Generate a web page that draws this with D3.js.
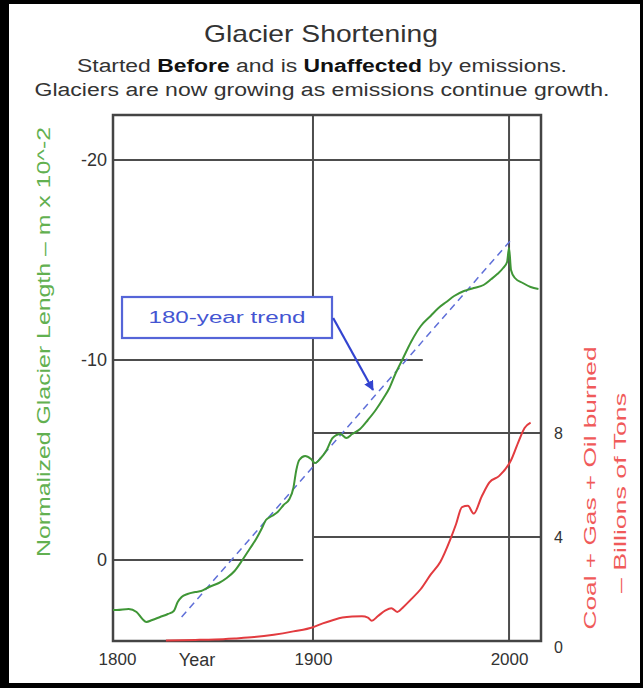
<!DOCTYPE html>
<html><head><meta charset="utf-8">
<script src="https://cdn.jsdelivr.net/npm/d3@7"></script>
<style>
html,body{margin:0;padding:0;background:#fff;}
svg{display:block;font-family:"Liberation Sans",Arial,Helvetica,sans-serif;}
</style></head><body>
<svg id="chart" width="643" height="688"></svg>
<script>
// ---------- data ----------
const glacierYears = [1798,1800,1806,1810,1813,1815,1818,1822,1826,1829,1831,1833,1836,1840,1843,1847,1852,1856,1860,1864,1868,1871,1874,1876,1879,1882,1885,1888,1890,1891.5,1893,1896,1899,1901,1904,1907,1910,1914,1917,1920,1924,1928,1932,1936,1939,1942,1946,1950,1955,1960,1964,1968,1972,1977,1982,1987,1991,1994,1997,1999,2000,2001,2003,2007,2011,2015];
const glacierValues = [2.5,2.5,2.45,2.6,2.95,3.1,3.0,2.85,2.7,2.55,2.1,1.85,1.7,1.6,1.55,1.35,1.15,0.9,0.55,0.0,-0.6,-1.05,-1.6,-2.0,-2.2,-2.4,-2.75,-3.05,-3.6,-4.5,-5.0,-5.2,-5.05,-4.85,-5.1,-5.5,-6.1,-6.3,-6.1,-6.3,-6.55,-7.0,-7.5,-8.1,-8.6,-9.3,-10.1,-10.9,-11.7,-12.2,-12.6,-12.9,-13.2,-13.45,-13.6,-13.75,-14.05,-14.3,-14.6,-14.9,-15.6,-14.5,-14.1,-13.85,-13.65,-13.55];
const fuelYears = [1825,1840,1850,1860,1870,1880,1890,1900,1905,1910,1915,1920,1925,1928,1930,1933,1937,1940,1943,1946,1950,1955,1960,1965,1970,1973,1976,1979,1982,1986,1990,1995,2001,2005,2008,2011];
const fuelValues = [0.02,0.04,0.06,0.1,0.15,0.24,0.37,0.53,0.68,0.8,0.9,0.94,0.95,0.9,0.78,0.95,1.18,1.26,1.12,1.3,1.6,2.0,2.55,3.05,3.9,4.5,5.15,5.2,4.9,5.55,6.1,6.35,6.95,7.7,8.2,8.4];
const trendYears = [1833, 2001];
const trendValues = [2.85, -16.0];
const xTicks = [1800, 1900, 2000];
const leftTicks = [-20, -10, 0];
const rightTicks = [0, 4, 8];
const vGridYears = [1900, 2000];
const leftGridValues = [-20, -10, 0];
const leftGridEnds = [2016.3, 1956, 1895];
const rightGridValues = [4, 8];
const rightGridStart = 1900;
const trendLabel = "180-year trend";

// ---------- layout ----------
const svg = d3.select("#chart");
const W = 643, H = 688;
const L = 113, R = 541, T = 115, B = 641;
const gridCol = "#4d4d4d";
const green = "#3f9636", red = "#e23b3f", blue = "#4455d2";
const fmt = d => String(d);

// outer frame
svg.append("rect").attr("x",0).attr("y",0).attr("width",W).attr("height",H).attr("fill","#000");
svg.append("rect").attr("x",9).attr("y",4).attr("width",W-12).attr("height",H-9).attr("fill","#fff");

const x = d3.scaleLinear().domain([1798, 2016.3]).range([L, R]);
const yL = d3.scaleLinear().domain([4.05, -22.25]).range([B, T]);
const yR = d3.scaleLinear().domain([0, 20.23]).range([B, T]);

// titles
svg.append("text").attr("x",321).attr("y",42).attr("text-anchor","middle")
  .attr("font-size",24).attr("fill","#333").attr("textLength",234).attr("lengthAdjust","spacingAndGlyphs")
  .text("Glacier Shortening");
const s1 = svg.append("text").attr("x",322).attr("y",72).attr("text-anchor","middle")
  .attr("font-size",18).attr("fill","#333").attr("textLength",490).attr("lengthAdjust","spacingAndGlyphs");
s1.append("tspan").text("Started ");
s1.append("tspan").attr("font-weight","bold").attr("fill","#111").text("Before");
s1.append("tspan").text(" and is ");
s1.append("tspan").attr("font-weight","bold").attr("fill","#111").text("Unaffected");
s1.append("tspan").text(" by emissions.");
svg.append("text").attr("x",322).attr("y",96).attr("text-anchor","middle")
  .attr("font-size",18).attr("fill","#333").attr("textLength",575).attr("lengthAdjust","spacingAndGlyphs")
  .text("Glaciers are now growing as emissions continue growth.");

// grid
const g = svg.append("g");
g.selectAll(".lg").data(leftGridValues).join("line")
  .attr("x1", x(1798)).attr("x2", (d,i)=>x(leftGridEnds[i]))
  .attr("y1", d=>yL(d)).attr("y2", d=>yL(d))
  .attr("stroke", gridCol).attr("stroke-width", 2);
g.selectAll(".rg").data(rightGridValues).join("line")
  .attr("x1", x(rightGridStart)).attr("x2", R)
  .attr("y1", d=>yR(d)).attr("y2", d=>yR(d))
  .attr("stroke", gridCol).attr("stroke-width", 2);
g.selectAll(".vg").data(vGridYears).join("line")
  .attr("x1", d=>x(d)).attr("x2", d=>x(d)).attr("y1", T).attr("y2", B)
  .attr("stroke", gridCol).attr("stroke-width", 2);

// plot frame
svg.append("rect").attr("x",L).attr("y",T).attr("width",R-L).attr("height",B-T)
  .attr("fill","none").attr("stroke","#444").attr("stroke-width",2.5);

// lines
const lineL = d3.line().x(d=>x(d[0])).y(d=>yL(d[1])).curve(d3.curveMonotoneX);
const lineR = d3.line().x(d=>x(d[0])).y(d=>yR(d[1])).curve(d3.curveMonotoneX);
svg.append("path").datum(fuelYears.map((d,i)=>[d,fuelValues[i]]))
  .attr("d", lineR).attr("fill","none").attr("stroke",red).attr("stroke-width",2);
svg.append("path").datum(trendYears.map((d,i)=>[d,trendValues[i]]))
  .attr("d", d3.line().x(d=>x(d[0])).y(d=>yL(d[1]))).attr("fill","none")
  .attr("stroke","#5f6fd8").attr("stroke-width",1.5).attr("stroke-dasharray","7,5");
svg.append("path").datum(glacierYears.map((d,i)=>[d,glacierValues[i]]))
  .attr("d", lineL).attr("fill","none").attr("stroke",green).attr("stroke-width",2);

// axes
const tickFont = "Liberation Sans, Arial, sans-serif";
const axL = svg.append("g").attr("transform",`translate(${L},0)`)
  .call(d3.axisLeft(yL).tickValues(leftTicks).tickSize(0).tickPadding(6).tickFormat(fmt));
axL.select(".domain").remove();
axL.selectAll("text").attr("font-size",18).attr("fill","#333").attr("font-family",tickFont);

const axR = svg.append("g").attr("transform",`translate(${R},0)`)
  .call(d3.axisRight(yR).tickValues(rightTicks).tickSize(0).tickPadding(13).tickFormat(fmt));
axR.select(".domain").remove();
axR.selectAll("text").attr("font-size",16).attr("fill","#333").attr("font-family",tickFont)
  .attr("dy", d => d===0 ? "0.7em" : "0.32em");

const axB = svg.append("g").attr("transform",`translate(0,${B})`)
  .call(d3.axisBottom(x).tickValues(xTicks).tickSize(0).tickPadding(12).tickFormat(fmt));
axB.select(".domain").remove();
axB.selectAll("text").attr("font-size",17).attr("fill","#333").attr("font-family",tickFont);

svg.append("text").attr("x",197).attr("y",B+12).attr("dy","0.71em").attr("text-anchor","middle")
  .attr("font-size",18).attr("fill","#333").text("Year");

// axis titles
svg.append("text").attr("transform","translate(44,342) rotate(-90)").attr("text-anchor","middle")
  .attr("dy","0.35em").attr("font-size",18).attr("fill","#62b050")
  .attr("textLength",430).attr("lengthAdjust","spacingAndGlyphs")
  .text("Normalized Glacier Length \u2013 m x 10^-2");
svg.append("text").attr("transform","translate(590,488) rotate(-90)").attr("text-anchor","middle")
  .attr("dy","0.35em").attr("font-size",17).attr("fill","#f05a5a")
  .attr("textLength",283).attr("lengthAdjust","spacingAndGlyphs")
  .text("Coal + Gas + Oil burned");
svg.append("text").attr("transform","translate(620,493) rotate(-90)").attr("text-anchor","middle")
  .attr("dy","0.35em").attr("font-size",17).attr("fill","#f05a5a")
  .attr("textLength",200).attr("lengthAdjust","spacingAndGlyphs")
  .text("\u2013 Billions of Tons");

// annotation (in data coordinates)
const boxY0 = 1802.6, boxY1 = 1909.7, boxV0 = -13.15, boxV1 = -11.1;
svg.append("rect").attr("x",x(boxY0)).attr("y",yL(boxV0)).attr("width",x(boxY1)-x(boxY0))
  .attr("height",yL(boxV1)-yL(boxV0)).attr("fill","#fff").attr("stroke","#5565d8").attr("stroke-width",2.2);
svg.append("text").attr("x",(x(boxY0)+x(boxY1))/2).attr("y",(yL(boxV0)+yL(boxV1))/2).attr("dy","0.35em")
  .attr("text-anchor","middle").attr("font-size",16).attr("fill",blue)
  .attr("textLength",157).attr("lengthAdjust","spacingAndGlyphs").text(trendLabel);
const defs = svg.append("defs");
defs.append("marker").attr("id","arr").attr("viewBox","0 0 10 10").attr("refX",9).attr("refY",5)
  .attr("markerWidth",4.5).attr("markerHeight",4.5).attr("orient","auto")
  .append("path").attr("d","M0,0L10,5L0,10z").attr("fill","#3344d0");
svg.append("line").attr("x1",x(1910.3)).attr("y1",yL(-12.1)).attr("x2",x(1930.6)).attr("y2",yL(-8.5))
  .attr("stroke","#3344d0").attr("stroke-width",2.2).attr("marker-end","url(#arr)");
</script>
</body></html>
